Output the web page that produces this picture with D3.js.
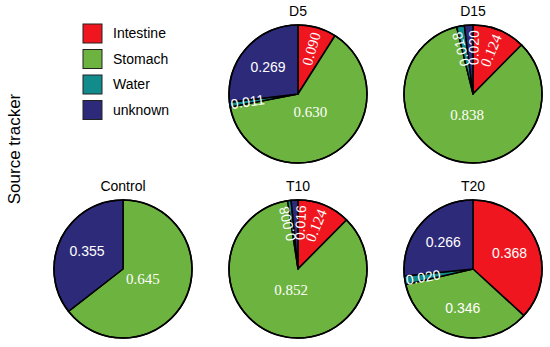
<!DOCTYPE html>
<html>
<head>
<meta charset="utf-8">
<style>
  body { margin: 0; background: #fff; }
  text { font-family: "Liberation Sans", Arial, sans-serif; }
</style>
</head>
<body>
<svg width="550" height="347"></svg>
<script src="https://d3js.org/d3.v7.min.js"></script>
<script>

// data
var sources = ["Intestine", "Stomach", "Water", "unknown"];
var panels = ["D5", "D15", "Control", "T10", "T20"];
var intestine = [0.090, 0.124, 0, 0.124, 0.368];
var stomach   = [0.630, 0.838, 0.645, 0.852, 0.346];
var water     = [0.011, 0.018, 0, 0.008, 0.020];
var unknown   = [0.269, 0.020, 0.355, 0.016, 0.266];

// grid slot of each panel (row, col)
var panelRow = [0, 0, 1, 1, 1];
var panelCol = [1, 2, 0, 1, 2];

// style bits
var colors = ["#f0161f", "#6db33f", "#128b8d", "#2e2a7a"];
var serifSources = ["Intestine", "Stomach"];
var sansPanels = ["T20"];
var sansFont = "'Liberation Sans', Arial, sans-serif",
  serifFont = "'Liberation Serif', 'Times New Roman', serif";

var svg = d3.select("svg"),
  radius = 69,
  minSep = 16; // degrees between rotated labels

var x = d3.scalePoint().domain([0, 1, 2]).range([123, 473]),
  y = d3.scalePoint().domain([0, 1]).range([94, 269]),
  color = d3.scaleOrdinal().domain(sources).range(colors);

var pie = d3.pie().sort(null).value(function(d) { return d.v; });
var arc = d3.arc().innerRadius(0).outerRadius(radius);

// y label
svg.append("text")
    .attr("transform", "translate(20,149) rotate(-90)")
    .attr("text-anchor", "middle")
    .style("font-size", "17px")
    .text("Source tracker");

// legend
var legend = svg.append("g").selectAll("g")
    .data(sources)
  .enter().append("g")
    .attr("transform", function(d, i) { return "translate(83," + (24 + i * 25.5) + ")"; });

legend.append("rect")
    .attr("width", 19).attr("height", 19)
    .attr("fill", function(d) { return color(d); })
    .attr("stroke", "#222").attr("stroke-width", 1);

legend.append("text")
    .attr("x", 30).attr("y", 9.5).attr("dy", "0.35em")
    .style("font-size", "14px")
    .text(function(d) { return d; });

panels.forEach(function(name, i) {
  var values = [intestine[i], stomach[i], water[i], unknown[i]].map(function(v, j) {
    return {source: sources[j], v: v};
  });
  var cx = x(panelCol[i]), cy = y(panelRow[i]);
  var g = svg.append("g").attr("transform", "translate(" + cx + "," + cy + ")");

  g.append("text")
      .attr("y", -radius - 9)
      .attr("text-anchor", "middle")
      .style("font-size", "14px")
      .text(name);

  var slices = pie(values).filter(function(d) { return d.data.v > 0; });

  g.selectAll("path")
      .data(slices)
    .enter().append("path")
      .attr("d", arc)
      .attr("fill", function(d) { return color(d.data.source); })
      .attr("stroke", "#000")
      .attr("stroke-width", 1.5)
      .attr("stroke-linejoin", "round");

  g.append("circle").attr("r", radius).attr("fill", "none").attr("stroke", "#000").attr("stroke-width", 1.6);

  // label placement: big slices flat, small ones radial
  slices.forEach(function(d) {
    var deg = (d.startAngle + d.endAngle) / 2 * 180 / Math.PI;
    d.deg = deg;
    if (d.data.v >= 0.2) d.kind = "flat";
    else if (deg > 180 && deg < 315) d.kind = "inward";
    else { d.kind = "outward"; d.deg = deg > 180 ? deg - 360 : deg; }
  });

  // push crowded radial labels apart
  var out = slices.filter(function(d) { return d.kind === "outward"; })
    .sort(function(a, b) { return a.deg - b.deg; });
  for (var k = 0; k < 50; k++) {
    for (var j = 1; j < out.length; j++) {
      var diff = out[j].deg - out[j - 1].deg;
      if (diff < minSep) {
        out[j].deg += (minSep - diff) / 2;
        out[j - 1].deg -= (minSep - diff) / 2;
      }
    }
  }

  g.selectAll(".lbl")
      .data(slices)
    .enter().append("text")
      .attr("class", "lbl")
      .attr("fill", "#fff")
      .style("font-family", function(d) {
        return serifSources.indexOf(d.data.source) >= 0 && sansPanels.indexOf(name) < 0 ? serifFont : sansFont;
      })
      .style("font-size", function(d) {
        return serifSources.indexOf(d.data.source) >= 0 && sansPanels.indexOf(name) < 0 ? "15px" : "14px";
      })
      .attr("dy", "0.35em")
      .each(function(d) {
        var t = d3.select(this),
          a = d.deg * Math.PI / 180, r;
        if (d.kind === "flat") {
          r = d.data.v > 0.5 ? 22 : 40;
          t.attr("text-anchor", "middle")
            .attr("transform", "translate(" + (Math.sin(a) * r) + "," + (-Math.cos(a) * r) + ")");
        } else if (d.kind === "inward") {
          r = radius - 1;
          t.attr("text-anchor", "start")
            .attr("transform", "translate(" + (Math.sin(a) * r) + "," + (-Math.cos(a) * r) + ") rotate(" + (d.deg + 90) + ")");
        } else {
          r = radius - 5;
          t.attr("text-anchor", "end")
            .attr("transform", "translate(" + (Math.sin(a) * r) + "," + (-Math.cos(a) * r) + ") rotate(" + (d.deg - 90) + ")");
        }
      })
      .text(function(d) { return d.data.v.toFixed(3); });
});

</script>
</body>
</html>
